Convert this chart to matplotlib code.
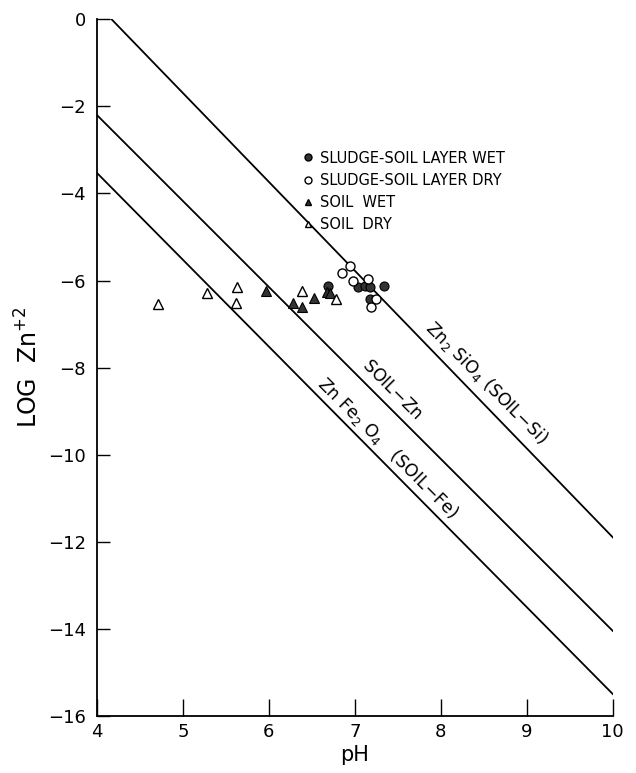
import numpy as np
import matplotlib.pyplot as plt
from matplotlib.lines import Line2D

# data (pH, log Zn+2)
sludge_wet_ph = [6.69, 7.04, 7.12, 7.17, 7.34, 7.17]
sludge_wet_zn = [-6.12, -6.15, -6.13, -6.15, -6.12, -6.42]

sludge_dry_ph = [6.94, 6.85, 6.98, 7.15, 7.25, 7.19]
sludge_dry_zn = [-5.67, -5.82, -6.0, -5.96, -6.42, -6.6]

soil_wet_ph = [5.97, 6.28, 6.38, 6.52, 6.67, 6.71]
soil_wet_zn = [-6.24, -6.51, -6.6, -6.4, -6.26, -6.29]

soil_dry_ph = [4.71, 5.28, 5.63, 5.62, 6.38, 6.78]
soil_dry_zn = [-6.55, -6.29, -6.16, -6.52, -6.24, -6.43]

# solubility lines (end points)
si_ph = [4.17, 10]
si_zn = [0, -11.9]
soilzn_ph = [4, 10]
soilzn_zn = [-2.2, -14.05]
fe_ph = [4, 10]
fe_zn = [-3.53, -15.5]

xticks = [4, 5, 6, 7, 8, 9, 10]
yticks = [0, -2, -4, -6, -8, -10, -12, -14, -16]

fig = plt.figure(figsize=(6.36, 7.73), dpi=100)
ax = fig.add_axes([0.1525, 0.074, 0.811, 0.901])

lw = 1.3
ax.plot(si_ph, si_zn, color='black', lw=lw)
ax.plot(soilzn_ph, soilzn_zn, color='black', lw=lw)
ax.plot(fe_ph, fe_zn, color='black', lw=lw)

ax.plot(sludge_wet_ph, sludge_wet_zn, 'o', ms=6.5, mfc='#333333', mec='black', mew=0.8)
ax.plot(sludge_dry_ph, sludge_dry_zn, 'o', ms=6.5, mfc='white', mec='black', mew=1.0)
ax.plot(soil_wet_ph, soil_wet_zn, '^', ms=7, mfc='#333333', mec='black', mew=0.8)
ax.plot(soil_dry_ph, soil_dry_zn, '^', ms=7, mfc='white', mec='black', mew=1.0)

# line labels
ax.text(8.53, -8.35, r'Zn$_2$ SiO$_4$ (SOIL$-$Si)', rotation=-45, ha='center', va='center',
        fontsize=12.5, rotation_mode='anchor')
ax.text(7.44, -8.5, r'SOIL$-$Zn', rotation=-45, ha='center', va='center',
        fontsize=12.5, rotation_mode='anchor')
ax.text(7.38, -9.85, r'Zn Fe$_2$ O$_4$   (SOIL$-$Fe)', rotation=-45, ha='center', va='center',
        fontsize=12.5, rotation_mode='anchor')

handles = [
    Line2D([], [], ls='none', marker='o', ms=5, mfc='#333333', mec='black'),
    Line2D([], [], ls='none', marker='o', ms=5, mfc='white', mec='black'),
    Line2D([], [], ls='none', marker='^', ms=5, mfc='#333333', mec='black'),
    Line2D([], [], ls='none', marker='^', ms=5, mfc='white', mec='black'),
]
labels = ['SLUDGE-SOIL LAYER WET', 'SLUDGE-SOIL LAYER DRY', 'SOIL  WET', 'SOIL  DRY']
ax.legend(handles, labels, loc='upper left', bbox_to_anchor=(0.383, 0.822), frameon=False,
          fontsize=10.5, handlelength=0.8, handletextpad=0.45, labelspacing=0.5, borderpad=0)

ax.set_xlim(4, 10)
ax.set_ylim(-16, 0)
ax.set_xticks(xticks)
ax.set_xticklabels([str(t) for t in xticks])
ax.set_yticks(yticks)
ax.set_yticklabels([str(t).replace('-', '\u2212') for t in yticks])
ax.tick_params(axis='x', direction='in', length=12, width=1, labelsize=13, pad=5)
ax.tick_params(axis='y', direction='in', length=9, width=1, labelsize=13, pad=8)
ax.spines['top'].set_visible(False)
ax.spines['right'].set_visible(False)
ax.spines['left'].set_linewidth(1.3)
ax.spines['bottom'].set_linewidth(1.3)

ax.set_xlabel('pH', fontsize=15, labelpad=3)
ax.set_ylabel(r'LOG  Zn$^{+2}$', fontsize=17, labelpad=4)

fig.savefig('out.png', dpi=100)
